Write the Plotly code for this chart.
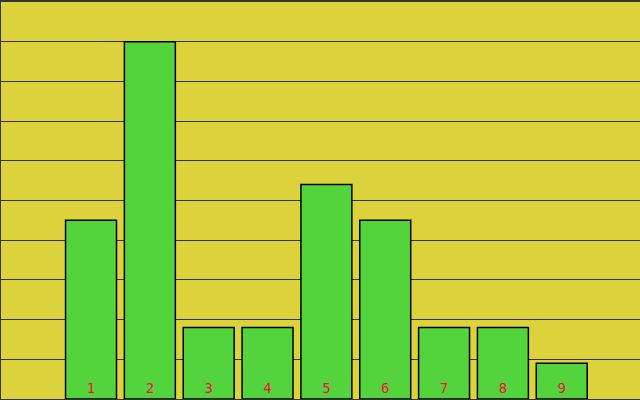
import plotly.graph_objects as go

categories = [1, 2, 3, 4, 5, 6, 7, 8, 9]
values = [5, 10, 2, 2, 6, 5, 2, 2, 1]
labels = ["1", "2", "3", "4", "5", "6", "7", "8", "9"]

bgColor = '#dcd23c'
barColor = '#54d43c'
gridColor = '#333333'

fig = go.Figure()
fig.add_trace(go.Bar(
    x=categories, y=values, width=0.866,
    marker=dict(color=barColor, line=dict(color='black', width=1.5)),
    text=labels, textposition='inside', insidetextanchor='start',
    textangle=0,
    textfont=dict(family='DejaVu Sans Mono', size=14, color='#f0103c'),
))
fig.update_xaxes(range=[-0.53, 10.33], showgrid=False, showticklabels=False,
                 zeroline=False, showline=True, linecolor=gridColor, mirror=True, linewidth=2)
fig.update_yaxes(range=[0, 100 / 9], dtick=10 / 9, showticklabels=False,
                 gridcolor=gridColor, gridwidth=1, zeroline=False,
                 showline=True, linecolor=gridColor, linewidth=2)
fig.update_layout(width=640, height=400, margin=dict(l=1, r=0, t=0, b=1),
                  plot_bgcolor=bgColor, paper_bgcolor=bgColor,
                  showlegend=False, uniformtext=dict(minsize=14, mode='show'))
# drop the page's default body margin so the chart fills the window
fig.write_html("out.html", config={'displayModeBar': False},
               post_script="document.body.style.margin='0';")
